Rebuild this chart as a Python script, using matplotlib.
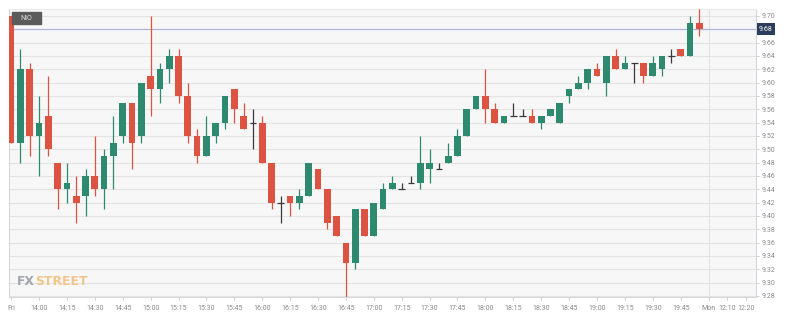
import matplotlib
matplotlib.use("Agg")
import matplotlib.pyplot as plt
import matplotlib.transforms as mtransforms
from matplotlib.patches import Rectangle
import numpy as np

# ---- data (5-minute candles, Fri 13:45 .. 19:55) ----
opens  = [9.70, 9.51, 9.62, 9.52, 9.55, 9.48, 9.44, 9.43, 9.43, 9.46,
          9.44, 9.49, 9.52, 9.57, 9.52, 9.61, 9.59, 9.62, 9.64, 9.58,
          9.52, 9.49, 9.52, 9.54, 9.59, 9.55, 9.54, 9.54, 9.48, 9.42,
          9.43, 9.42, 9.43, 9.47, 9.44, 9.40, 9.36, 9.33, 9.41, 9.37,
          9.41, 9.44, 9.44, 9.45, 9.45, 9.47, 9.47, 9.48, 9.49, 9.52,
          9.56, 9.58, 9.56, 9.54, 9.55, 9.55, 9.55, 9.54, 9.55, 9.54,
          9.58, 9.59, 9.60, 9.62, 9.60, 9.64, 9.62, 9.63, 9.63, 9.61,
          9.62, 9.64, 9.65, 9.64, 9.69]
highs  = [9.70, 9.65, 9.63, 9.58, 9.61, 9.48, 9.48, 9.46, 9.47, 9.52,
          9.50, 9.55, 9.57, 9.57, 9.60, 9.70, 9.63, 9.65, 9.65, 9.60,
          9.53, 9.55, 9.54, 9.58, 9.59, 9.57, 9.56, 9.55, 9.48, 9.43,
          9.43, 9.44, 9.48, 9.47, 9.44, 9.40, 9.36, 9.41, 9.41, 9.42,
          9.45, 9.46, 9.45, 9.46, 9.52, 9.50, 9.48, 9.51, 9.53, 9.56,
          9.58, 9.62, 9.57, 9.55, 9.57, 9.56, 9.56, 9.55, 9.56, 9.57,
          9.59, 9.61, 9.62, 9.63, 9.64, 9.65, 9.64, 9.63, 9.63, 9.64,
          9.64, 9.65, 9.65, 9.70, 9.71]
lows   = [9.51, 9.48, 9.49, 9.46, 9.49, 9.41, 9.42, 9.39, 9.40, 9.43,
          9.41, 9.44, 9.51, 9.47, 9.51, 9.55, 9.57, 9.60, 9.57, 9.51,
          9.48, 9.49, 9.51, 9.53, 9.54, 9.53, 9.50, 9.48, 9.41, 9.39,
          9.40, 9.41, 9.43, 9.44, 9.38, 9.37, 9.275, 9.32, 9.37, 9.37,
          9.41, 9.44, 9.44, 9.45, 9.44, 9.45, 9.47, 9.48, 9.49, 9.52,
          9.56, 9.54, 9.54, 9.54, 9.55, 9.55, 9.54, 9.53, 9.55, 9.54,
          9.57, 9.59, 9.59, 9.61, 9.58, 9.62, 9.62, 9.60, 9.60, 9.61,
          9.61, 9.63, 9.64, 9.64, 9.67]
closes = [9.51, 9.62, 9.52, 9.54, 9.50, 9.44, 9.45, 9.42, 9.46, 9.44,
          9.49, 9.51, 9.57, 9.51, 9.60, 9.59, 9.62, 9.64, 9.58, 9.52,
          9.49, 9.52, 9.54, 9.58, 9.56, 9.53, 9.54, 9.48, 9.42, 9.42,
          9.42, 9.43, 9.48, 9.44, 9.39, 9.37, 9.33, 9.41, 9.37, 9.42,
          9.44, 9.45, 9.44, 9.45, 9.48, 9.48, 9.47, 9.49, 9.52, 9.56,
          9.58, 9.56, 9.54, 9.55, 9.55, 9.55, 9.54, 9.55, 9.56, 9.57,
          9.59, 9.60, 9.62, 9.61, 9.64, 9.62, 9.63, 9.63, 9.61, 9.63,
          9.64, 9.64, 9.64, 9.69, 9.68]

tick_positions = [0, 3, 6, 9, 12, 15, 18, 21, 24, 27, 30, 33, 36, 39, 42, 45,
                  48, 51, 54, 57, 60, 63, 66, 69, 72, 75, 77, 79]
tick_labels = ["Fri", "14:00", "14:15", "14:30", "14:45", "15:00", "15:15",
               "15:30", "15:45", "16:00", "16:15", "16:30", "16:45", "17:00",
               "17:15", "17:30", "17:45", "18:00", "18:15", "18:30", "18:45",
               "19:00", "19:15", "19:30", "19:45", "Mon", "12:10", "12:20"]
y_ticks = [9.28, 9.30, 9.32, 9.34, 9.36, 9.38, 9.40, 9.42, 9.44, 9.46, 9.48,
           9.50, 9.52, 9.54, 9.56, 9.58, 9.60, 9.62, 9.64, 9.66, 9.68, 9.70]
last_price = 9.68
symbol = "NIO"
day_break = 75

GREEN = "#2e8a6e"
RED = "#dc5342"
DOJI = "#3a3a3a"

plt.rcParams['font.family'] = ['Roboto', 'DejaVu Sans']

W, H = 785, 316
fig = plt.figure(figsize=(W / 100, H / 100), dpi=100)
fig.patch.set_facecolor("white")
ax = fig.add_axes([9 / W, 19 / H, (756 - 9) / W, (297 - 9) / H])
ax.set_facecolor("#f7f7f7")

x = np.arange(len(opens))
o = np.array(opens); c = np.array(closes)
hi = np.array(highs); lo = np.array(lows)
width = 0.72

for i in x:
    if abs(c[i] - o[i]) < 1e-9:
        col = DOJI
        ax.vlines(i, lo[i], hi[i], color=col, linewidth=0.9, zorder=3)
        ax.hlines(o[i], i - width / 2, i + width / 2, color=col, linewidth=0.9, zorder=3)
    else:
        col = GREEN if c[i] > o[i] else RED
        ax.vlines(i, lo[i], hi[i], color=col, linewidth=0.9, zorder=3)
        ax.bar(i, abs(c[i] - o[i]), bottom=min(o[i], c[i]), width=width,
               color=col, linewidth=0, zorder=4)

ax.set_xlim(-0.23, 80.1)
ax.set_ylim(9.2785, 9.7105)

ax.set_yticks(y_ticks)
# the label at the last price is covered by the price box
ax.set_yticklabels(["" if abs(v - last_price) < 1e-9 else f"{v:.2f}" for v in y_ticks])
ax.yaxis.tick_right()
ax.set_xticks(tick_positions)
ax.set_xticklabels(tick_labels)
ax.tick_params(axis="both", labelsize=5, colors="#c8c8c8", labelcolor="#8a8a8a",
               length=2.5, width=0.6, pad=1.5)
ax.tick_params(axis="x", pad=3)

ax.grid(axis="y", color="#e4e4e4", linewidth=0.8, zorder=0)
ax.axvline(day_break, color="#e4e4e4", linewidth=0.8, zorder=0)
ax.set_axisbelow(True)

for side in ["left", "right", "bottom", "top"]:
    ax.spines[side].set_linewidth(0.8)
ax.spines["left"].set_color("#d4d6e0")
ax.spines["right"].set_color("#d4d6e0")
ax.spines["bottom"].set_color("#d8d8d8")
ax.spines["top"].set_color("#e8e8e8")

# current price line + label
ax.axhline(last_price, color="#b3b6d6", linewidth=0.9, zorder=2)
trans = mtransforms.blended_transform_factory(ax.transAxes, ax.transData)
ax.text(1.004, last_price, f"{last_price:.2f}", transform=trans, ha="left",
        va="center", fontsize=5, color="white", clip_on=False,
        bbox=dict(boxstyle="square,pad=0.35", fc="#2c3d5c", ec="none"))

# symbol box
fig.add_artist(Rectangle((12 / W, 1 - 24 / H), 29 / W, 12 / H,
                         transform=fig.transFigure, color="#5b5b5b", zorder=10))
fig.text(26.5 / W, 1 - 18 / H, symbol, ha="center", va="center", fontsize=5,
         color="#e0e0e0", zorder=11)

# watermark, sized so that it spans about 70 px
wm_font = ['Liberation Sans Narrow', 'DejaVu Sans']
fs = 13.0
t1 = fig.text(17 / W, 1 - 285 / H, "FX", fontsize=fs, fontweight="bold",
              color="#a3a5ad", family=wm_font, ha="left", va="baseline")
t2 = fig.text(0, 1 - 285 / H, "STREET", fontsize=fs, fontweight="bold",
              color="#f2c58a", family=wm_font, ha="left", va="baseline")
r = fig.canvas.get_renderer()
total = t1.get_window_extent(r).width + t2.get_window_extent(r).width
fs = fs * 70.0 / total
t1.set_fontsize(fs)
t2.set_fontsize(fs)
bb = t1.get_window_extent(r)
t2.set_x((bb.x1 + 0.3) / W)

fig.savefig("out.png", dpi=100, facecolor="white")
